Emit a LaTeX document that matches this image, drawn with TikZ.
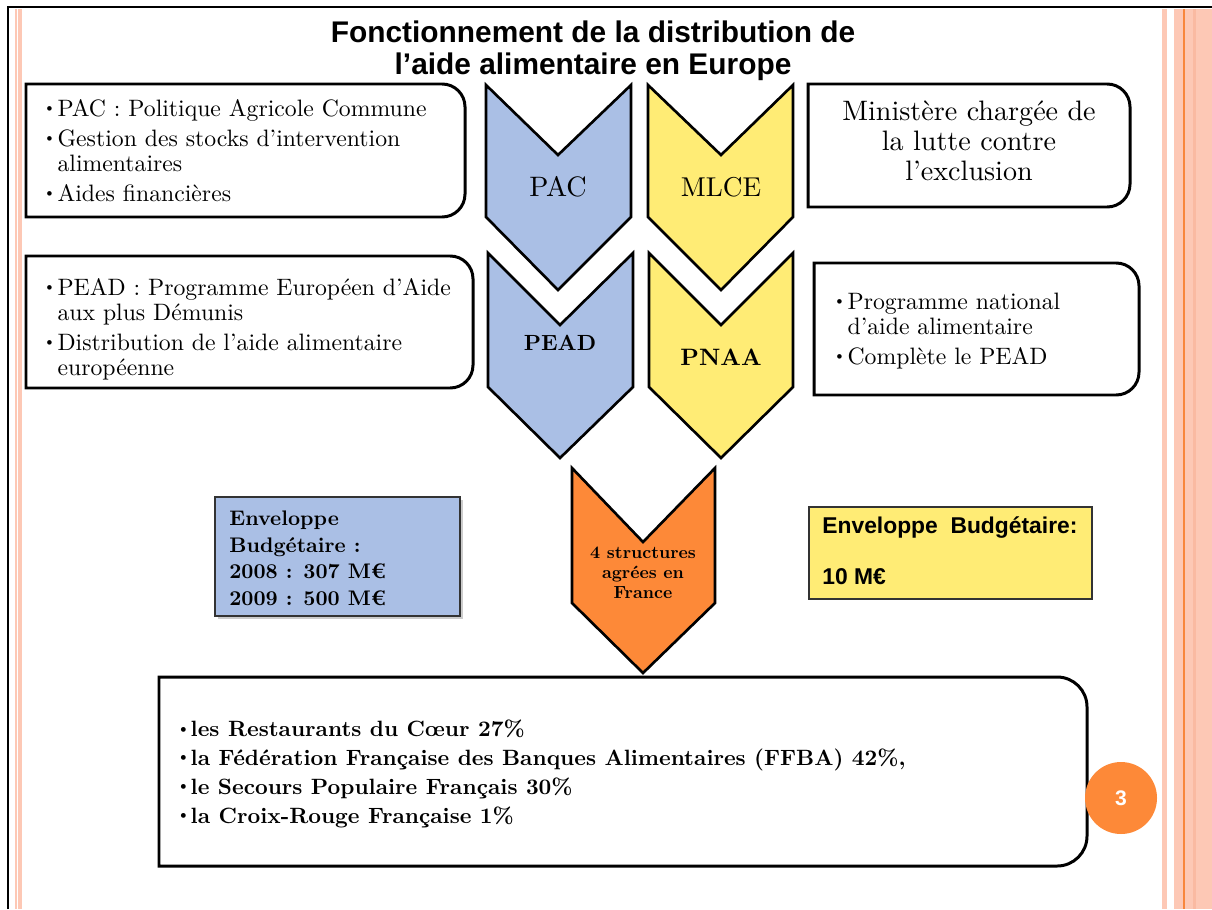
\documentclass[tikz,border=0pt]{standalone}
\usepackage{fontspec}
\setmainfont{lmroman10-regular.otf}[BoldFont=lmroman10-bold.otf, ItalicFont=lmroman10-italic.otf]
\newfontfamily\arialfont{Liberation Sans}
\usetikzlibrary{shadows}

\definecolor{pacblue}{RGB}{170,191,229}
\definecolor{mlceyellow}{RGB}{255,236,117}
\definecolor{orangeA}{RGB}{253,137,56}
\definecolor{stripe}{RGB}{253,200,181}
\definecolor{stripedark}{RGB}{250,186,162}
\definecolor{stripeline}{RGB}{248,134,60}

\newcommand{\puce}[1][0.6em]{\makebox[#1][l]{\raisebox{2.2pt}{\fontsize{9}{9}\selectfont\textbullet}}}
\newcommand{\suite}{\hspace*{0.6em}}

\tikzset{
  infobox/.style={line width=1.7pt},
  chevron/.style={draw=black, line width=1.5pt},
  boxtext/.style={inner sep=0pt, align=left, anchor=north west, font=\fontsize{13.5}{14.2}\selectfont},
}

\begin{document}
\begin{tikzpicture}[x=0.02cm,y=-0.02cm]
          \useasboundingbox (0,0) rectangle (1212,909);
          \fill[white] (0,0) rectangle (1212,909);
          \fill[stripe] (15,9) rectangle (16.7,909);
          \fill[stripe] (17.7,9) rectangle (22,909);
          \fill[stripe] (1161.7,9) rectangle (1166.7,909);
          \fill[stripe] (1174,9) rectangle (1212,909);
          \fill[stripedark] (1193,9) rectangle (1196,909);
          \draw[stripeline, line width=0.6pt] (1184,9) -- (1184,909);
          \draw[line width=1pt] (8,909) -- (8,7) -- (1212,7);

          \node[font=\arialfont\bfseries\fontsize{17}{18.1}\selectfont, align=center, anchor=north, inner sep=0pt] (title) at (593,21) {Fonctionnement de la distribution de\\l’aide alimentaire en Europe};

          \draw[infobox] (246,84) [rounded corners=13pt] -- (465,84) -- (465,217) -- (246,217) [sharp corners] -- (26,217) -- (26,84) -- cycle;
          \node[boxtext] (pacInfo) at (43,99.5) {\puce PAC : Politique Agricole Commune\\[2.8pt]\puce Gestion des stocks d’intervention\\\suite alimentaires\\[2.8pt]\puce Aides financières};

          \draw[infobox] (970,84) [rounded corners=13pt] -- (1130,84) -- (1130,207) -- (970,207) [sharp corners] -- (808,207) -- (808,84) -- cycle;
          \node[font=\fontsize{16}{17}\selectfont, align=center, anchor=north, inner sep=0pt] (mlceInfo) at (969,100.5) {Ministère chargée de\\la lutte contre\\l’exclusion};

          \draw[infobox] (250,256) [rounded corners=13pt] -- (473,256) -- (473,388) -- (250,388) [sharp corners] -- (26,388) -- (26,256) -- cycle;
          \node[boxtext] (peadInfo) at (43,278) {\puce PEAD : Programme Européen d’Aide\\\suite aux plus Démunis\\[2.8pt]\puce Distribution de l’aide alimentaire\\\suite européenne};

          \draw[infobox] (976,263) [rounded corners=13pt] -- (1139,263) -- (1139,395) -- (976,395) [sharp corners] -- (814,395) -- (814,263) -- cycle;
          \node[boxtext] (pnaaInfo) at (833,293) {\puce Programme national\\\suite d’aide alimentaire\\[2.8pt]\puce Complète le PEAD};

          \draw[chevron, fill=pacblue] (486,85) -- (558,155) -- (631,85) -- (631,217) -- (558,290) -- (486,217) -- cycle;
          \draw[chevron, fill=pacblue] (488,253) -- (560,325) -- (633,253) -- (633,387) -- (560,458) -- (488,387) -- cycle;
          \draw[chevron, fill=mlceyellow] (648,85) -- (721,155) -- (793,85) -- (793,217) -- (721,290) -- (648,217) -- cycle;
          \draw[chevron, fill=mlceyellow] (649,253) -- (721,325) -- (793,253) -- (793,387) -- (721,458) -- (649,387) -- cycle;
          \node[font=\fontsize{16}{16}\selectfont] (pac) at (558,187) {PAC};
          \node[font=\fontsize{15.5}{16}\selectfont] (mlce) at (721,187) {MLCE};
          \node[font=\bfseries\fontsize{12.5}{13}\selectfont] (pead) at (560,343) {PEAD};
          \node[font=\bfseries\fontsize{13.5}{14}\selectfont] (pnaa) at (721,357) {PNAA};

          \draw[fill=pacblue, draw=black!80, line width=0.6pt, drop shadow={shadow xshift=1.5pt, shadow yshift=-1.5pt, opacity=0.4}] (215,497) rectangle (460,616);
          \node[font=\bfseries\fontsize{12}{15}\selectfont, align=left, anchor=north west, inner sep=0pt] (budgetEU) at (229,511) {Enveloppe\\Budgétaire :\\2008 : 307 M€\\2009 : 500 M€};

          \draw[fill=mlceyellow, draw=black!80, line width=0.6pt] (809,507) rectangle (1092,599);
          \node[font=\arialfont\bfseries\fontsize{13}{14.5}\selectfont, align=left, anchor=north west, inner sep=0pt] (budgetFR) at (822,516) {Enveloppe\ \ Budgétaire:\\[14.5pt]10 M€};

          \draw[infobox] (620,677) [rounded corners=17pt] -- (1087,677) -- (1087,866) -- (620,866) [sharp corners] -- (159,866) -- (159,677) -- cycle;
          \draw[chevron, fill=orangeA] (572,468) -- (643,542) -- (715,468) -- (715,603) -- (643,673) -- (572,603) -- cycle;
          \node[font=\bfseries\fontsize{10}{11.3}\selectfont, align=center] (structures) at (643,573) {4 structures\\agrées en\\France};

          \node[font=\bfseries\fontsize{12.6}{16.4}\selectfont, align=left, anchor=north west, inner sep=0pt] (assoc) at (176,720) {\puce[0.65em]les Restaurants du Cœur 27\%\\\puce[0.65em]la Fédération Française des Banques Alimentaires (FFBA) 42\%,\\\puce[0.65em]le Secours Populaire Français 30\%\\\puce[0.65em]la Croix-Rouge Française 1\%};

          \node[circle, fill=orangeA, minimum size=1.44cm, inner sep=0pt, text=white, font=\arialfont\bfseries\fontsize{12}{12}\selectfont] (pagenum) at (1121,798) {3};
        \end{tikzpicture}
\end{document}
